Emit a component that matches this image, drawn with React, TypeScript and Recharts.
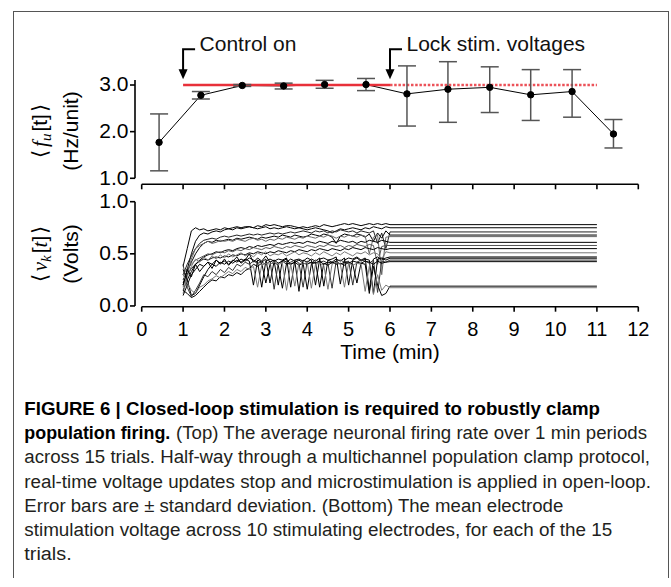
import React from "react";
import { LineChart, Line, XAxis, YAxis, ErrorBar, ReferenceLine } from "recharts";

// shared time axis (minutes)
const minuteTicks = [0, 1, 2, 3, 4, 5, 6, 7, 8, 9, 10, 11, 12];

// top panel: mean firing rate per 1-min period
const rateTimes = [0.42, 1.43, 2.43, 3.43, 4.42, 5.42, 6.41, 7.4, 8.41, 9.4, 10.4, 11.4];
const rateMeans = [1.77, 2.78, 2.99, 2.98, 3.01, 3.01, 2.81, 2.91, 2.95, 2.79, 2.86, 1.95];
const rateErrLow = [0.61, 0.08, 0.02, 0.065, 0.08, 0.13, 0.69, 0.71, 0.54, 0.55, 0.55, 0.3];
const rateErrHigh = [0.61, 0.08, 0.02, 0.06, 0.09, 0.13, 0.6, 0.59, 0.44, 0.54, 0.47, 0.31];
const rateTicks = [1, 2, 3];

const targetRate = 3.0;
const controlOnTime = 1;
const lockTime = 6;
const stimEndTime = 11;

// bottom panel: mean electrode voltage, one trace per trial
const voltTicks = [0, 0.5, 1];
const stimTimes = [
  1.0, 1.1, 1.2, 1.3, 1.4, 1.5, 1.6, 1.7, 1.8, 1.9,
  2.0, 2.1, 2.2, 2.3, 2.4, 2.5, 2.6, 2.7, 2.8, 2.9,
  3.0, 3.1, 3.2, 3.3, 3.4, 3.5, 3.6, 3.7, 3.8, 3.9,
  4.0, 4.1, 4.2, 4.3, 4.4, 4.5, 4.6, 4.7, 4.8, 4.9,
  5.0, 5.1, 5.2, 5.3, 5.4, 5.5, 5.6, 5.7, 5.8, 5.9,
  6.0, 11.0,
];
const trialVolts = [
  [0.38, 0.55, 0.72, 0.75, 0.73, 0.74, 0.72, 0.73, 0.74, 0.73,
   0.75, 0.74, 0.75, 0.76, 0.75, 0.76, 0.76, 0.75, 0.77, 0.76,
   0.78, 0.77, 0.78, 0.77, 0.76, 0.77, 0.77, 0.76, 0.75, 0.76,
   0.75, 0.76, 0.77, 0.76, 0.78, 0.77, 0.76, 0.77, 0.78, 0.79,
   0.78, 0.79, 0.78, 0.77, 0.78, 0.79, 0.78, 0.79, 0.78, 0.79,
   0.78, 0.78],
  [0.2, 0.35, 0.5, 0.62, 0.68, 0.7, 0.69, 0.71, 0.72, 0.71,
   0.73, 0.74, 0.73, 0.75, 0.74, 0.75, 0.76, 0.75, 0.74, 0.75,
   0.76, 0.74, 0.75, 0.74, 0.75, 0.76, 0.75, 0.74, 0.75, 0.74,
   0.73, 0.74, 0.75, 0.74, 0.73, 0.72, 0.7, 0.72, 0.74, 0.73,
   0.74, 0.75, 0.74, 0.73, 0.75, 0.74, 0.76, 0.75, 0.74, 0.76,
   0.75, 0.75],
  [0.3, 0.4, 0.48, 0.55, 0.6, 0.63, 0.64, 0.65, 0.64, 0.66,
   0.67, 0.66, 0.67, 0.68, 0.67, 0.68, 0.69, 0.68, 0.69, 0.68,
   0.69, 0.7, 0.69, 0.7, 0.69, 0.7, 0.71, 0.7, 0.71, 0.72,
   0.71, 0.7, 0.72, 0.71, 0.72, 0.7, 0.72, 0.71, 0.73, 0.72,
   0.71, 0.72, 0.7, 0.72, 0.71, 0.7, 0.72, 0.6, 0.7, 0.55,
   0.71, 0.71],
  [0.25, 0.33, 0.42, 0.5, 0.56, 0.6, 0.62, 0.61, 0.63, 0.62,
   0.63, 0.64, 0.63, 0.65, 0.64, 0.65, 0.66, 0.65, 0.64, 0.66,
   0.65, 0.66, 0.67, 0.66, 0.68, 0.67, 0.66, 0.68, 0.67, 0.66,
   0.67, 0.69, 0.68, 0.67, 0.69, 0.68, 0.66, 0.6, 0.67, 0.69,
   0.68, 0.67, 0.69, 0.68, 0.66, 0.69, 0.62, 0.7, 0.65, 0.72,
   0.68, 0.68],
  [0.18, 0.3, 0.45, 0.55, 0.58, 0.6, 0.62, 0.6, 0.61, 0.63,
   0.62, 0.63, 0.62, 0.64, 0.63, 0.62, 0.64, 0.65, 0.63, 0.64,
   0.62, 0.64, 0.63, 0.65, 0.64, 0.66, 0.65, 0.64, 0.66, 0.65,
   0.67, 0.66, 0.65, 0.67, 0.66, 0.68, 0.67, 0.65, 0.67, 0.66,
   0.68, 0.67, 0.66, 0.68, 0.67, 0.5, 0.66, 0.68, 0.3, 0.66,
   0.665, 0.665],
  [0.15, 0.25, 0.33, 0.4, 0.44, 0.47, 0.49, 0.5, 0.52, 0.51,
   0.53, 0.54, 0.53, 0.55, 0.56, 0.55, 0.57, 0.56, 0.58, 0.57,
   0.58, 0.59, 0.58, 0.6, 0.59, 0.6, 0.61, 0.6, 0.61, 0.6,
   0.62, 0.61, 0.6, 0.62, 0.61, 0.6, 0.62, 0.61, 0.63, 0.62,
   0.61, 0.62, 0.6, 0.62, 0.61, 0.63, 0.62, 0.61, 0.63, 0.62,
   0.61, 0.61],
  [0.3, 0.36, 0.4, 0.44, 0.46, 0.48, 0.5, 0.49, 0.51, 0.52,
   0.51, 0.53, 0.52, 0.54, 0.53, 0.55, 0.54, 0.56, 0.55, 0.54,
   0.56, 0.55, 0.57, 0.56, 0.55, 0.57, 0.56, 0.58, 0.57, 0.56,
   0.58, 0.57, 0.56, 0.58, 0.57, 0.59, 0.58, 0.57, 0.58, 0.56,
   0.58, 0.57, 0.59, 0.58, 0.57, 0.59, 0.58, 0.4, 0.57, 0.58,
   0.58, 0.58],
  [0.22, 0.3, 0.36, 0.4, 0.43, 0.45, 0.44, 0.46, 0.47, 0.46,
   0.48, 0.47, 0.49, 0.48, 0.5, 0.49, 0.51, 0.5, 0.52, 0.51,
   0.5, 0.52, 0.51, 0.53, 0.52, 0.51, 0.53, 0.52, 0.54, 0.53,
   0.52, 0.54, 0.53, 0.55, 0.54, 0.53, 0.55, 0.54, 0.53, 0.55,
   0.54, 0.56, 0.55, 0.54, 0.56, 0.55, 0.54, 0.56, 0.55, 0.54,
   0.55, 0.55],
  [0.12, 0.28, 0.38, 0.45, 0.42, 0.47, 0.44, 0.48, 0.45, 0.49,
   0.46, 0.5, 0.47, 0.49, 0.51, 0.48, 0.5, 0.47, 0.51, 0.49,
   0.52, 0.48, 0.5, 0.49, 0.51, 0.48, 0.5, 0.52, 0.49, 0.51,
   0.5, 0.48, 0.51, 0.49, 0.52, 0.5, 0.48, 0.51, 0.49, 0.52,
   0.5, 0.48, 0.51, 0.5, 0.52, 0.49, 0.51, 0.5, 0.45, 0.52,
   0.51, 0.51],
  [0.35, 0.25, 0.1, 0.12, 0.2, 0.28, 0.35, 0.4, 0.38, 0.42,
   0.4, 0.43, 0.41, 0.44, 0.42, 0.45, 0.43, 0.2, 0.44, 0.42,
   0.45, 0.22, 0.43, 0.45, 0.44, 0.46, 0.18, 0.44, 0.45, 0.43,
   0.46, 0.44, 0.2, 0.45, 0.46, 0.44, 0.45, 0.47, 0.21, 0.44,
   0.46, 0.45, 0.47, 0.44, 0.46, 0.15, 0.45, 0.47, 0.44, 0.46,
   0.47, 0.47],
  [0.1, 0.2, 0.3, 0.35, 0.4, 0.38, 0.42, 0.4, 0.44, 0.41,
   0.43, 0.4, 0.44, 0.42, 0.45, 0.43, 0.46, 0.44, 0.42, 0.18,
   0.43, 0.45, 0.43, 0.2, 0.44, 0.42, 0.45, 0.43, 0.14, 0.44,
   0.42, 0.45, 0.43, 0.46, 0.19, 0.44, 0.42, 0.45, 0.43, 0.46,
   0.2, 0.44, 0.46, 0.43, 0.45, 0.44, 0.12, 0.45, 0.46, 0.44,
   0.458, 0.458],
  [0.4, 0.18, 0.09, 0.15, 0.22, 0.3, 0.28, 0.33, 0.3, 0.35,
   0.32, 0.37, 0.34, 0.4, 0.38, 0.42, 0.4, 0.43, 0.41, 0.42,
   0.4, 0.43, 0.16, 0.41, 0.43, 0.4, 0.42, 0.44, 0.41, 0.18,
   0.43, 0.41, 0.44, 0.42, 0.43, 0.41, 0.17, 0.43, 0.44, 0.42,
   0.43, 0.2, 0.42, 0.44, 0.43, 0.41, 0.44, 0.13, 0.43, 0.42,
   0.44, 0.44],
  [0.2, 0.35, 0.28, 0.4, 0.33, 0.38, 0.42, 0.36, 0.44, 0.4,
   0.45, 0.39, 0.43, 0.47, 0.41, 0.44, 0.5, 0.42, 0.46, 0.43,
   0.48, 0.42, 0.44, 0.41, 0.43, 0.45, 0.4, 0.42, 0.44, 0.41,
   0.4, 0.42, 0.41, 0.43, 0.4, 0.42, 0.41, 0.43, 0.4, 0.42,
   0.41, 0.43, 0.42, 0.41, 0.43, 0.42, 0.4, 0.43, 0.41, 0.42,
   0.425, 0.425],
  [0.15, 0.12, 0.08, 0.1, 0.14, 0.18, 0.22, 0.25, 0.24, 0.28,
   0.27, 0.3, 0.29, 0.32, 0.3, 0.34, 0.36, 0.4, 0.38, 0.41,
   0.22, 0.4, 0.42, 0.39, 0.17, 0.41, 0.4, 0.42, 0.39, 0.41,
   0.16, 0.4, 0.42, 0.18, 0.41, 0.39, 0.42, 0.4, 0.41, 0.39,
   0.42, 0.4, 0.22, 0.41, 0.4, 0.12, 0.38, 0.2, 0.1, 0.12,
   0.19, 0.19],
  [0.3, 0.22, 0.15, 0.12, 0.18, 0.2, 0.24, 0.26, 0.29, 0.27,
   0.3, 0.33, 0.31, 0.35, 0.33, 0.37, 0.35, 0.38, 0.18, 0.39,
   0.41, 0.4, 0.42, 0.4, 0.41, 0.15, 0.4, 0.19, 0.41, 0.4,
   0.42, 0.17, 0.4, 0.41, 0.39, 0.16, 0.4, 0.42, 0.4, 0.18,
   0.41, 0.39, 0.41, 0.4, 0.14, 0.38, 0.11, 0.3, 0.15, 0.2,
   0.175, 0.175],
];
const trialColors = [
  "#000", "#000", "#222", "#000", "#666", "#000", "#555", "#000",
  "#777", "#000", "#000", "#333", "#000", "#000", "#777",
];

const FONT = '"Liberation Sans", Arial, Helvetica, sans-serif';
const SERIF = '"Liberation Serif", "DejaVu Serif", serif';

// page geometry
const W = 671;
const PLOT_L = 141.7;
const PLOT_R = 638.3;
const AXIS_X = 135; // offset y-axis line
const AXIS_DX = (AXIS_X - PLOT_L) / ((PLOT_R - PLOT_L) / 12);

const rateData = rateTimes.map((t, i) => ({
  t,
  v: rateMeans[i],
  err: [rateErrLow[i], rateErrHigh[i]],
}));
const targetSolid = [
  { t: controlOnTime, v: targetRate },
  { t: lockTime, v: targetRate },
];
const targetDotted = [
  { t: lockTime, v: targetRate },
  { t: stimEndTime, v: targetRate },
];
const trialData = trialVolts.map((vals) => stimTimes.map((t, i) => ({ t, v: vals[i] })));

function YTick(props: any) {
  const { y, payload } = props;
  return (
    <g>
      <line x1={AXIS_X - 5} x2={AXIS_X} y1={y} y2={y} stroke="#000" strokeWidth={1.6} />
      <text x={AXIS_X - 6.5} y={y} dy={6.3} textAnchor="end" fontSize={21} fontFamily={FONT} fill="#000">
        {Number(payload.value).toFixed(1)}
      </text>
    </g>
  );
}

function arrowShape(label: string) {
  return (p: any) => {
    const x = Number(p.x1);
    const top = Number(p.y1);
    const tip = Number(p.y2);
    return (
      <g>
        <path d={`M${x + 12},${top} L${x},${top} L${x},${tip - 9}`} fill="none" stroke="#000" strokeWidth={2} />
        <path d={`M${x - 4.5},${tip - 10} L${x + 4.5},${tip - 10} L${x},${tip} Z`} fill="#000" />
        <text x={x + 16.5} y={top + 1.4} fontSize={21} fontFamily={FONT} fill="#111">
          {label}
        </text>
      </g>
    );
  };
}

const axisStroke = { stroke: "#000", strokeWidth: 1.6 };

function TopChart() {
  return (
    <LineChart width={W} height={200} margin={{ top: 47.7, right: W - PLOT_R, bottom: 0, left: 0 }}>
      <XAxis
        type="number"
        dataKey="t"
        domain={[0, 12]}
        ticks={minuteTicks}
        tickFormatter={() => ""}
        tickSize={5}
        axisLine={axisStroke}
        tickLine={axisStroke}
        height={15.7}
      />
      <YAxis
        type="number"
        domain={[0.871, 3.8]}
        ticks={rateTicks}
        width={PLOT_L}
        axisLine={false}
        tickLine={false}
        tick={<YTick />}
      />
      <ReferenceLine
        segment={[{ x: AXIS_DX, y: 1 }, { x: AXIS_DX, y: 3.107 }]}
        ifOverflow="visible"
        stroke="#000"
        strokeWidth={1.6}
      />
      <Line data={rateData} dataKey="v" stroke="#000" strokeWidth={1} dot={false} activeDot={false} isAnimationActive={false} />
      <Line data={targetSolid} dataKey="v" stroke="#e8303a" strokeWidth={2.5} dot={false} activeDot={false} isAnimationActive={false} />
      <Line
        data={targetDotted}
        dataKey="v"
        stroke="#ec5259"
        strokeWidth={2.5}
        strokeDasharray="2.5 1.7"
        dot={false}
        activeDot={false}
        isAnimationActive={false}
      />
      <Line
        data={rateData}
        dataKey="v"
        stroke="none"
        dot={{ r: 3.2, fill: "#000", stroke: "#000", strokeWidth: 1 }}
        activeDot={false}
        isAnimationActive={false}
      >
        <ErrorBar dataKey="err" direction="y" width={9} stroke="#555" strokeWidth={1.5} isAnimationActive={false} />
      </Line>
      <ReferenceLine
        segment={[{ x: controlOnTime, y: 3.765 }, { x: controlOnTime, y: 3.122 }]}
        ifOverflow="visible"
        shape={arrowShape("Control on")}
      />
      <ReferenceLine
        segment={[{ x: lockTime, y: 3.765 }, { x: lockTime, y: 3.122 }]}
        ifOverflow="visible"
        shape={arrowShape("Lock stim. voltages")}
      />
    </LineChart>
  );
}

function BottomChart() {
  return (
    <LineChart width={W} height={356.7} margin={{ top: 201.7, right: W - PLOT_R, bottom: 0, left: 0 }}>
      <XAxis
        type="number"
        dataKey="t"
        domain={[0, 12]}
        ticks={minuteTicks}
        tickSize={5}
        tickMargin={10}
        axisLine={axisStroke}
        tickLine={axisStroke}
        tick={{ fontSize: 20, fontFamily: FONT, fill: "#000" }}
        height={50}
      />
      <YAxis
        type="number"
        domain={[-0.007, 1]}
        ticks={voltTicks}
        width={PLOT_L}
        axisLine={false}
        tickLine={false}
        tick={<YTick />}
      />
      <ReferenceLine
        segment={[{ x: AXIS_DX, y: 0 }, { x: AXIS_DX, y: 1 }]}
        ifOverflow="visible"
        stroke="#000"
        strokeWidth={1.6}
      />
      {trialData.map((d, i) => (
        <Line
          key={i}
          data={d}
          dataKey="v"
          stroke={trialColors[i]}
          strokeWidth={1}
          dot={false}
          activeDot={false}
          isAnimationActive={false}
        />
      ))}
    </LineChart>
  );
}

const captionText = { fontFamily: FONT, fontSize: 18, fill: "#231f20" };

function Overlay() {
  return (
    <svg width={W} height={587} style={{ position: "absolute", left: 0, top: 0, pointerEvents: "none" }}>
      {/* y-axis titles, top panel */}
      <text transform="translate(47,131) rotate(-90)" textAnchor="middle" fontSize={21} fontFamily={FONT} fill="#000">
        <tspan fontFamily="DejaVu Sans" fontWeight={200}>⟨</tspan>
        <tspan fontFamily={SERIF} fontStyle="italic" dx={3}>f</tspan>
        <tspan fontFamily={SERIF} fontStyle="italic" fontSize={15} dy={4}>u</tspan>
        <tspan dy={-4} dx={2}>[t]</tspan>
        <tspan fontFamily="DejaVu Sans" fontWeight={200} dx={2}>⟩</tspan>
      </text>
      <text transform="translate(78,131) rotate(-90)" textAnchor="middle" fontSize={21} fontFamily={FONT} fill="#000">
        (Hz/unit)
      </text>
      {/* y-axis titles, bottom panel */}
      <text transform="translate(47,254) rotate(-90)" textAnchor="middle" fontSize={21} fontFamily={FONT} fill="#000">
        <tspan fontFamily="DejaVu Sans" fontWeight={200}>⟨</tspan>
        <tspan fontFamily={SERIF} fontStyle="italic" dx={3}>ν</tspan>
        <tspan fontFamily={SERIF} fontStyle="italic" fontSize={15} dy={4}>k</tspan>
        <tspan dy={-4} dx={2}>[</tspan>
        <tspan fontFamily={SERIF} fontStyle="italic">t</tspan>
        <tspan>]</tspan>
        <tspan fontFamily="DejaVu Sans" fontWeight={200} dx={2}>⟩</tspan>
      </text>
      <text transform="translate(78,254) rotate(-90)" textAnchor="middle" fontSize={21} fontFamily={FONT} fill="#000">
        (Volts)
      </text>
      <text x={390} y={359} textAnchor="middle" fontSize={21} fontFamily={FONT} fill="#000">
        Time (min)
      </text>

      {/* caption */}
      <text x={24.3} y={415} {...captionText} fontWeight="bold" fill="#000" textLength={575.7} lengthAdjust="spacingAndGlyphs">
        FIGURE 6 | Closed-loop stimulation is required to robustly clamp
      </text>
      <text x={24.3} y={439.2} {...captionText} fontWeight="bold" fill="#000" textLength={146} lengthAdjust="spacingAndGlyphs">
        population firing.
      </text>
      <text x={176} y={439.2} {...captionText} textLength={471} lengthAdjust="spacingAndGlyphs">
        (Top) The average neuronal firing rate over 1 min periods
      </text>
      <text x={24.3} y={463.3} {...captionText} textLength={625.7} lengthAdjust="spacingAndGlyphs">
        across 15 trials. Half-way through a multichannel population clamp protocol,
      </text>
      <text x={24.3} y={487.5} {...captionText} textLength={626.7} lengthAdjust="spacingAndGlyphs">
        real-time voltage updates stop and microstimulation is applied in open-loop.
      </text>
      <text x={24.3} y={511.7} {...captionText} textLength={539} lengthAdjust="spacingAndGlyphs">
        Error bars are ± standard deviation. (Bottom) The mean electrode
      </text>
      <text x={24.3} y={535.8} {...captionText} textLength={588} lengthAdjust="spacingAndGlyphs">
        stimulation voltage across 10 stimulating electrodes, for each of the 15
      </text>
      <text x={24.3} y={560} {...captionText} textLength={47.4} lengthAdjust="spacingAndGlyphs">
        trials.
      </text>
    </svg>
  );
}

export default function App() {
  return (
    <div style={{ position: "absolute", left: 0, top: 0, width: W, height: 587, background: "#fff", overflow: "hidden" }}>
      <div
        style={{
          position: "absolute",
          left: 12.5,
          top: 11,
          width: 656,
          height: 567,
          border: "1.5px solid #555",
          borderBottom: "none",
          boxSizing: "border-box",
        }}
      />
      <div style={{ position: "absolute", left: 0, top: 0 }}>
        <TopChart />
      </div>
      <div style={{ position: "absolute", left: 0, top: 0 }}>
        <BottomChart />
      </div>
      <Overlay />
    </div>
  );
}
